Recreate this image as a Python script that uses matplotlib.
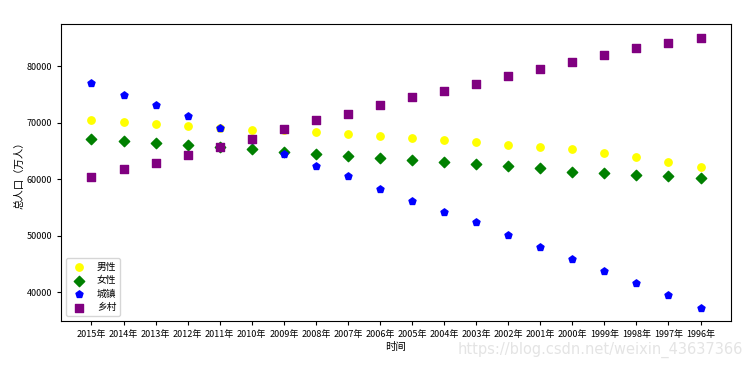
import matplotlib
matplotlib.use("Agg")
import matplotlib.pyplot as plt
import numpy as np

plt.rcParams['font.family'] = ['Noto Sans CJK SC', 'DejaVu Sans']
plt.rcParams['axes.unicode_minus'] = False

years = ['2015年', '2014年', '2013年', '2012年', '2011年', '2010年', '2009年',
         '2008年', '2007年', '2006年', '2005年', '2004年', '2003年', '2002年',
         '2001年', '2000年', '1999年', '1998年', '1997年', '1996年']
male = [70414, 70079, 69728, 69395, 69068, 68748, 68647, 68357, 68048, 67728,
        67375, 66976, 66556, 66115, 65672, 65437, 64692, 63940, 63131, 62200]
female = [67048, 66703, 66344, 66009, 65667, 65343, 64803, 64445, 64081, 63720,
          63381, 63012, 62671, 62338, 61955, 61306, 61094, 60821, 60495, 60189]
urban = [77116, 74916, 73111, 71182, 69079, 66978, 64512, 62403, 60633, 58288,
         56212, 54283, 52376, 50212, 48064, 45906, 43748, 41608, 39449, 37304]
rural = [60346, 61866, 62961, 64222, 65656, 67113, 68938, 70399, 71496, 73160,
         74544, 75705, 76851, 78241, 79563, 80837, 82038, 83153, 84177, 85085]

fig = plt.figure(figsize=(7.54, 3.66), dpi=100)
ax = fig.add_axes([61 / 754, 1 - 321 / 366, 670 / 754, 297 / 366])

x = np.arange(len(years))
ax.scatter(x, male, c='yellow', marker='o', s=28, label='男性')
ax.scatter(x, female, c='green', marker='D', s=28, label='女性')
ax.scatter(x, urban, c='blue', marker='p', s=28, label='城镇')
ax.scatter(x, rural, c='purple', marker='s', s=28, label='乡村')

ax.set_xticks(x)
ax.set_xticklabels(years)
ax.tick_params(labelsize=6.5, length=3)
ax.set_xlabel('时间', fontsize=7.5, labelpad=2)
ax.set_ylabel('总人口（万人）', fontsize=7.5, labelpad=1)
ax.legend(loc='lower left', fontsize=7, scatterpoints=1, labelspacing=0.35)

fig.text(0.986, 0.044, 'https://blog.csdn.net/weixin_43637366', fontsize=10.5,
         color='#e4e4e4', ha='right', va='center', family='DejaVu Sans')

fig.savefig('out.png', dpi=100)
